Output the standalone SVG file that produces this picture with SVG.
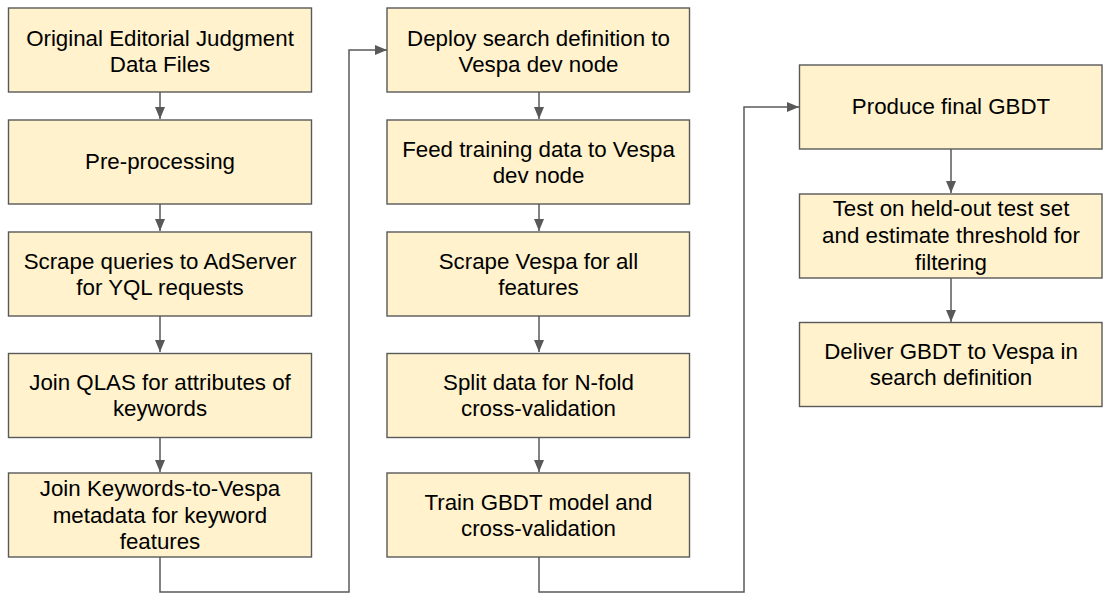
<svg xmlns="http://www.w3.org/2000/svg" width="1106" height="601" viewBox="0 0 1106 601">
<style>
.box{fill:#fff2cc;stroke:#595959;stroke-width:1.4}
.t{font-family:"Liberation Sans",Arial,sans-serif;font-size:22.3px;fill:#000;text-anchor:middle}
.c{fill:none;stroke:#595959;stroke-width:1.5}
</style>
<defs>
<marker id="ah" markerUnits="userSpaceOnUse" markerWidth="13" markerHeight="10" refX="12" refY="5" orient="auto">
<path d="M0,0 L12,5 L0,10 Z" fill="#595959"/>
</marker>
</defs>
<rect width="1106" height="601" fill="#ffffff"/>
<g id="connectors">
<path class="c" d="M160,92 V119" marker-end="url(#ah)"/>
<path class="c" d="M160,204 V231" marker-end="url(#ah)"/>
<path class="c" d="M160,316 V352" marker-end="url(#ah)"/>
<path class="c" d="M160,438 V472" marker-end="url(#ah)"/>
<path class="c" d="M160,557 V592 H349 V50 H387" marker-end="url(#ah)"/>
<path class="c" d="M539,92 V119" marker-end="url(#ah)"/>
<path class="c" d="M539,204 V231" marker-end="url(#ah)"/>
<path class="c" d="M539,316 V352" marker-end="url(#ah)"/>
<path class="c" d="M539,438 V472" marker-end="url(#ah)"/>
<path class="c" d="M539,557 V592 H744 V107 H799" marker-end="url(#ah)"/>
<path class="c" d="M951,149 V193" marker-end="url(#ah)"/>
<path class="c" d="M951,278 V322" marker-end="url(#ah)"/>
</g>
<g id="n1"><rect class="box" x="8.5" y="8" width="303" height="84"/>
<text class="t" x="160" y="46">Original Editorial Judgment</text><text class="t" x="160" y="71.5">Data Files</text></g>
<g id="n2"><rect class="box" x="8.5" y="120" width="303" height="84"/>
<text class="t" x="160" y="169">Pre-processing</text></g>
<g id="n3"><rect class="box" x="8.5" y="232" width="303" height="84"/>
<text class="t" x="160" y="268.5">Scrape queries to AdServer</text><text class="t" x="160" y="294.5">for YQL requests</text></g>
<g id="n4"><rect class="box" x="8.5" y="353.5" width="303" height="84"/>
<text class="t" x="160" y="390">Join QLAS for attributes of</text><text class="t" x="160" y="416">keywords</text></g>
<g id="n5"><rect class="box" x="8.5" y="473" width="303" height="84"/>
<text class="t" x="160" y="496">Join Keywords-to-Vespa</text><text class="t" x="160" y="522.5">metadata for keyword</text><text class="t" x="160" y="549">features</text></g>
<g id="n6"><rect class="box" x="387" y="8" width="302.5" height="84"/>
<text class="t" x="538.5" y="46">Deploy search definition to</text><text class="t" x="538.5" y="71.5">Vespa dev node</text></g>
<g id="n7"><rect class="box" x="387" y="120" width="302.5" height="84"/>
<text class="t" x="538.5" y="157">Feed training data to Vespa</text><text class="t" x="538.5" y="183">dev node</text></g>
<g id="n8"><rect class="box" x="387" y="232" width="302.5" height="84"/>
<text class="t" x="538.5" y="268.5">Scrape Vespa for all</text><text class="t" x="538.5" y="294.5">features</text></g>
<g id="n9"><rect class="box" x="387" y="353.5" width="302.5" height="84"/>
<text class="t" x="538.5" y="390">Split data for N-fold</text><text class="t" x="538.5" y="416">cross-validation</text></g>
<g id="n10"><rect class="box" x="387" y="473" width="302.5" height="84"/>
<text class="t" x="538.5" y="510">Train GBDT model and</text><text class="t" x="538.5" y="536">cross-validation</text></g>
<g id="n11"><rect class="box" x="799.5" y="65" width="302.5" height="84"/>
<text class="t" x="951" y="113.5">Produce final GBDT</text></g>
<g id="n12"><rect class="box" x="799.5" y="194" width="302.5" height="84"/>
<text class="t" x="951" y="216">Test on held-out test set</text><text class="t" x="951" y="243">and estimate threshold for</text><text class="t" x="951" y="270">filtering</text></g>
<g id="n13"><rect class="box" x="799.5" y="322.5" width="302.5" height="84"/>
<text class="t" x="951" y="359">Deliver GBDT to Vespa in</text><text class="t" x="951" y="385">search definition</text></g>
</svg>
